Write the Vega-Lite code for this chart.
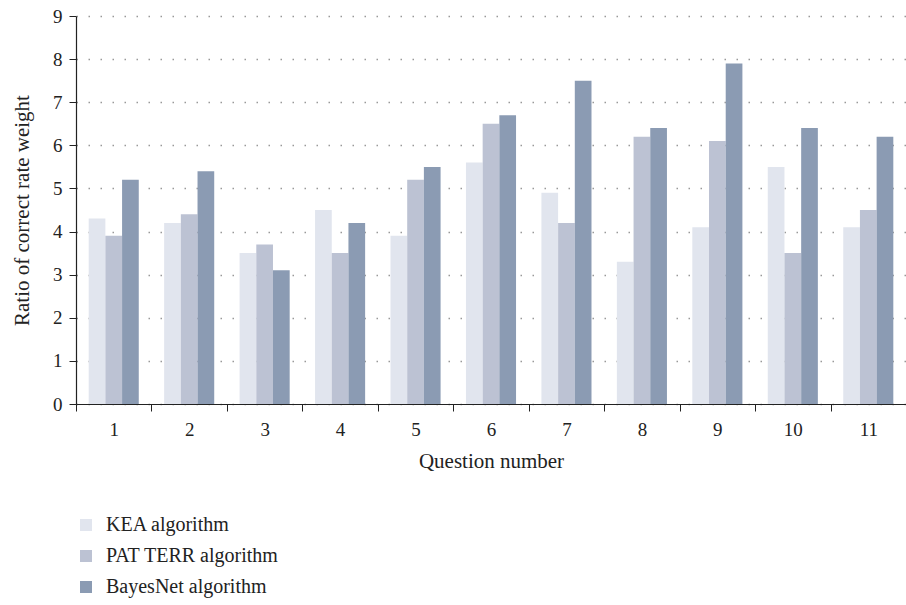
{
  "$schema": "https://vega.github.io/schema/vega-lite/v6.json",
  "width": 830,
  "height": 388,
  "autosize": "none",
  "padding": {"left": 76, "top": 16, "right": 0, "bottom": 201},
  "background": "white",
  "config": {
    "font": "Liberation Serif",
    "view": {"stroke": null}
  },
  "data": {
    "values": [
      {"q": "1", "alg": "KEA algorithm", "v": 4.3},
      {"q": "1", "alg": "PAT TERR algorithm", "v": 3.9},
      {"q": "1", "alg": "BayesNet algorithm", "v": 5.2},
      {"q": "2", "alg": "KEA algorithm", "v": 4.2},
      {"q": "2", "alg": "PAT TERR algorithm", "v": 4.4},
      {"q": "2", "alg": "BayesNet algorithm", "v": 5.4},
      {"q": "3", "alg": "KEA algorithm", "v": 3.5},
      {"q": "3", "alg": "PAT TERR algorithm", "v": 3.7},
      {"q": "3", "alg": "BayesNet algorithm", "v": 3.1},
      {"q": "4", "alg": "KEA algorithm", "v": 4.5},
      {"q": "4", "alg": "PAT TERR algorithm", "v": 3.5},
      {"q": "4", "alg": "BayesNet algorithm", "v": 4.2},
      {"q": "5", "alg": "KEA algorithm", "v": 3.9},
      {"q": "5", "alg": "PAT TERR algorithm", "v": 5.2},
      {"q": "5", "alg": "BayesNet algorithm", "v": 5.5},
      {"q": "6", "alg": "KEA algorithm", "v": 5.6},
      {"q": "6", "alg": "PAT TERR algorithm", "v": 6.5},
      {"q": "6", "alg": "BayesNet algorithm", "v": 6.7},
      {"q": "7", "alg": "KEA algorithm", "v": 4.9},
      {"q": "7", "alg": "PAT TERR algorithm", "v": 4.2},
      {"q": "7", "alg": "BayesNet algorithm", "v": 7.5},
      {"q": "8", "alg": "KEA algorithm", "v": 3.3},
      {"q": "8", "alg": "PAT TERR algorithm", "v": 6.2},
      {"q": "8", "alg": "BayesNet algorithm", "v": 6.4},
      {"q": "9", "alg": "KEA algorithm", "v": 4.1},
      {"q": "9", "alg": "PAT TERR algorithm", "v": 6.1},
      {"q": "9", "alg": "BayesNet algorithm", "v": 7.9},
      {"q": "10", "alg": "KEA algorithm", "v": 5.5},
      {"q": "10", "alg": "PAT TERR algorithm", "v": 3.5},
      {"q": "10", "alg": "BayesNet algorithm", "v": 6.4},
      {"q": "11", "alg": "KEA algorithm", "v": 4.1},
      {"q": "11", "alg": "PAT TERR algorithm", "v": 4.5},
      {"q": "11", "alg": "BayesNet algorithm", "v": 6.2}
    ]
  },
  "mark": {"type": "bar"},
  "encoding": {
    "x": {
      "field": "q",
      "type": "nominal",
      "sort": null,
      "scale": {"paddingInner": 0, "paddingOuter": 0},
      "axis": {
        "title": "Question number",
        "titleFont": "Liberation Serif",
        "titleFontSize": 21,
        "titleFontWeight": "normal",
        "titleColor": "#222",
        "titlePadding": 11,
        "labelAngle": 0,
        "labelFontSize": 19,
        "labelColor": "#222",
        "labelPadding": 9,
        "tickBand": "extent",
        "tickSize": 7,
        "tickColor": "#222",
        "domainColor": "#222",
        "domainWidth": 1.2,
        "grid": false
      }
    },
    "xOffset": {
      "field": "alg",
      "type": "nominal",
      "sort": ["KEA algorithm", "PAT TERR algorithm", "BayesNet algorithm"],
      "scale": {"paddingInner": 0, "paddingOuter": 0.76}
    },
    "y": {
      "field": "v",
      "type": "quantitative",
      "scale": {"domain": [0, 9], "nice": false},
      "axis": {
        "title": "Ratio of correct rate weight",
        "titleFont": "Liberation Serif",
        "titleFontSize": 21,
        "titleFontWeight": "normal",
        "titleColor": "#222",
        "titlePadding": 20,
        "values": [0, 1, 2, 3, 4, 5, 6, 7, 8, 9],
        "labelOverlap": false,
        "labelFontSize": 19,
        "labelColor": "#222",
        "labelPadding": 7,
        "tickSize": 7,
        "tickColor": "#222",
        "domainColor": "#222",
        "domainWidth": 1.2,
        "grid": true,
        "gridColor": "#999",
        "gridWidth": 1.5,
        "gridDash": [1.5, 10.5]
      }
    },
    "color": {
      "field": "alg",
      "type": "nominal",
      "sort": ["KEA algorithm", "PAT TERR algorithm", "BayesNet algorithm"],
      "scale": {
        "domain": ["KEA algorithm", "PAT TERR algorithm", "BayesNet algorithm"],
        "range": ["#e1e5ee", "#bcc2d3", "#8b9bb3"]
      },
      "legend": {
        "title": null,
        "orient": "none",
        "legendX": 0,
        "legendY": 499,
        "symbolType": "square",
        "symbolSize": 144,
        "symbolStrokeWidth": 0,
        "labelFont": "Liberation Serif",
        "labelFontSize": 20,
        "labelLimit": 500,
        "labelColor": "#222",
        "labelOffset": 10,
        "rowPadding": 11
      }
    }
  }
}
